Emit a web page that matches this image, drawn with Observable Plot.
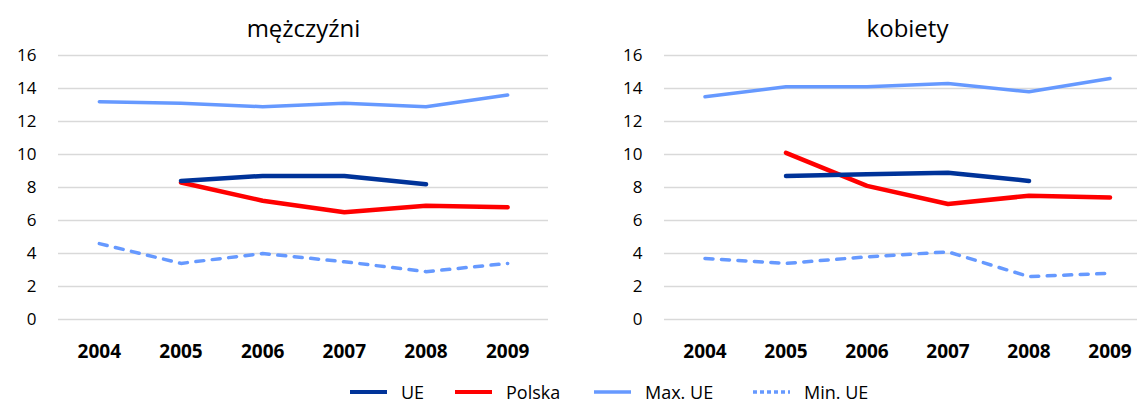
<!DOCTYPE html>
<html><head><meta charset="utf-8">
<script src="https://cdn.jsdelivr.net/npm/d3@7"></script>
<script src="https://cdn.jsdelivr.net/npm/@observablehq/plot@0.6"></script>
<style>
body{margin:0;background:#fff;overflow:hidden}
#chart{position:relative;width:1137px;height:405px;font-family:"Open Sans",sans-serif;background:#fff;overflow:hidden}
.panel{position:absolute;top:0}
.leg{position:absolute;top:380px;display:flex;align-items:center;font-size:18px;color:#000;white-space:nowrap}
.leg svg{margin-right:13px}
</style></head><body><div id="chart"></div>
<script>
const years = [2004, 2005, 2006, 2007, 2008, 2009];
const yTicks = [0, 2, 4, 6, 8, 10, 12, 14, 16];
const seriesNames = ["UE", "Polska", "Max. UE", "Min. UE"];
const seriesColors = ["#003399", "#FF0000", "#6699FF", "#6699FF"];
const panelTitles = ["mężczyźni", "kobiety"];

const menUE     = [null, 8.4, 8.7, 8.7, 8.2, null];
const menPL     = [null, 8.3, 7.2, 6.5, 6.9, 6.8];
const menMax    = [13.2, 13.1, 12.9, 13.1, 12.9, 13.6];
const menMin    = [4.6, 3.4, 4.0, 3.5, 2.9, 3.4];

const womenUE   = [null, 8.7, 8.8, 8.9, 8.4, null];
const womenPL   = [null, 10.1, 8.1, 7.0, 7.5, 7.4];
const womenMax  = [13.5, 14.1, 14.1, 14.3, 13.8, 14.6];
const womenMin  = [3.7, 3.4, 3.8, 4.1, 2.6, 2.8];

function toRows(arr, series) {
  return years.map((year, i) => ({year, value: arr[i], series})).filter(d => d.value != null);
}

function panel(title, ue, pl, mx, mn, left, width, marginLeft, range) {
  const line = (rows, color, sw, dash) => Plot.line(rows, {
    x: "year", y: "value", stroke: color, strokeWidth: sw,
    strokeDasharray: dash, strokeLinecap: "round", strokeLinejoin: "round"
  });
  const p = Plot.plot({
    width, height: 370,
    marginTop: 55, marginBottom: 51, marginLeft, marginRight: 0,
    x: {type: "linear", domain: [2003.5, 2009.5], range},
    y: {domain: [0, 16]},
    style: {fontFamily: "'Open Sans', sans-serif", color: "#000", background: "transparent"},
    marks: [
      Plot.ruleY(yTicks, {y: d => d, x1: 2003.5, x2: 2009.5, stroke: "#d9d9d9", strokeWidth: 1.5}),
      Plot.axisY({ticks: yTicks, tickSize: 0, tickPadding: 22, fontSize: 17, label: null}),
      Plot.axisX({ticks: years, tickSize: 0, tickPadding: 25, fontSize: 19, fontWeight: "bold", tickFormat: "d", label: null}),
      line(toRows(mx, seriesNames[2]), seriesColors[2], 3.5, null),
      line(toRows(mn, seriesNames[3]), seriesColors[3], 3.5, "8,8.5"),
      line(toRows(pl, seriesNames[1]), seriesColors[1], 4.5, null),
      line(toRows(ue, seriesNames[0]), seriesColors[0], 4.5, null),
      Plot.text([title], {x: () => 2006.5, frameAnchor: "top", dy: -19, lineAnchor: "bottom", fontSize: 24, text: d => d, fill: "#000"})
    ]
  });
  p.classList.add("panel");
  p.style.left = left + "px";
  p.style.overflow = "visible";
  return p;
}

const chart = document.getElementById("chart");
chart.appendChild(panel(panelTitles[0], menUE, menPL, menMax, menMin, 0, 568, 58, [58, 548]));
chart.appendChild(panel(panelTitles[1], womenUE, womenPL, womenMax, womenMin, 568, 569, 96, [96, 582]));

// legend
const legendX = [350, 455, 594, 753];
const legendDash = [null, null, null, "4,3"];
seriesNames.forEach((name, i) => {
  const d = document.createElement("div");
  d.className = "leg";
  d.style.left = legendX[i] + "px";
  const ns = "http://www.w3.org/2000/svg";
  const s = document.createElementNS(ns, "svg");
  s.setAttribute("width", 38); s.setAttribute("height", 10);
  const l = document.createElementNS(ns, "line");
  l.setAttribute("x1", 0); l.setAttribute("x2", 37); l.setAttribute("y1", 5); l.setAttribute("y2", 5);
  l.setAttribute("stroke", seriesColors[i]); l.setAttribute("stroke-width", i < 2 ? 4 : 3.5);
  if (legendDash[i]) l.setAttribute("stroke-dasharray", legendDash[i]);
  s.appendChild(l);
  d.appendChild(s);
  const t = document.createElement("span");
  t.textContent = name;
  d.appendChild(t);
  chart.appendChild(d);
});
</script></body></html>
